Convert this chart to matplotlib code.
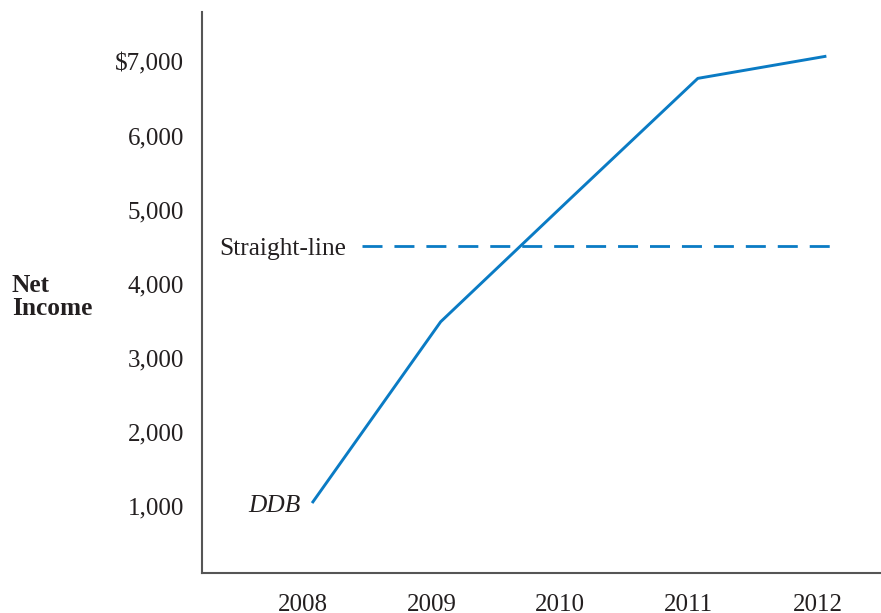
import matplotlib
matplotlib.use("Agg")
import matplotlib.pyplot as plt

years = [2008, 2009, 2010, 2011, 2012]
ddb_income = [1040, 3490, 5140, 6780, 7080]
straight_line_income = 4510
y_ticks = [1000, 2000, 3000, 4000, 5000, 6000, 7000]
y_tick_labels = ["1,000", "2,000", "3,000", "4,000", "5,000", "6,000", "$7,000"]

blue = "#0a7bc4"
ink = "#231f20"
plt.rcParams['font.family'] = ['Liberation Serif', 'DejaVu Serif']
plt.rcParams['lines.scale_dashes'] = False

fig = plt.figure(figsize=(8.81, 6.13), dpi=100)
ax = fig.add_axes([0.2293, 0.0653, 0.77, 0.915])

# points sit a little to the right of the year labels
xs = [y + 0.07 for y in years]
ax.plot(xs, ddb_income, color=blue, lw=2.1, solid_capstyle='butt')
ax.plot([2008.46, 2012.12], [straight_line_income] * 2, color=blue, lw=2.0,
        dashes=(14.4, 8.6))

ax.text(2008.335, straight_line_income - 40, "Straight-line", ha='right',
        va='center', fontsize=18.3, color=ink)
ax.text(2007.977, 1000, "DDB", ha='right', va='center',
        fontsize=18.3, style='italic', color=ink)

ax.set_xlim(2007.214, 2012.49)
ax.set_ylim(95, 7676)
ax.set_xticks(years)
ax.set_xticklabels([str(y) for y in years], fontsize=18, color=ink)
ax.set_yticks(y_ticks)
ax.set_yticklabels(y_tick_labels, fontsize=18, color=ink)
ax.tick_params(length=0)
ax.tick_params(axis='y', pad=13)
ax.tick_params(axis='x', pad=15)

for side in ['top', 'right']:
    ax.spines[side].set_visible(False)
for side in ['left', 'bottom']:
    ax.spines[side].set_color('#555555')
    ax.spines[side].set_linewidth(1.5)

fig.text(12 / 881, 1 - 297 / 613, "Net\nIncome", ha='left', va='center',
         fontsize=18.3, fontweight='bold', linespacing=1.0, color=ink)

fig.savefig("out.png", dpi=100)
